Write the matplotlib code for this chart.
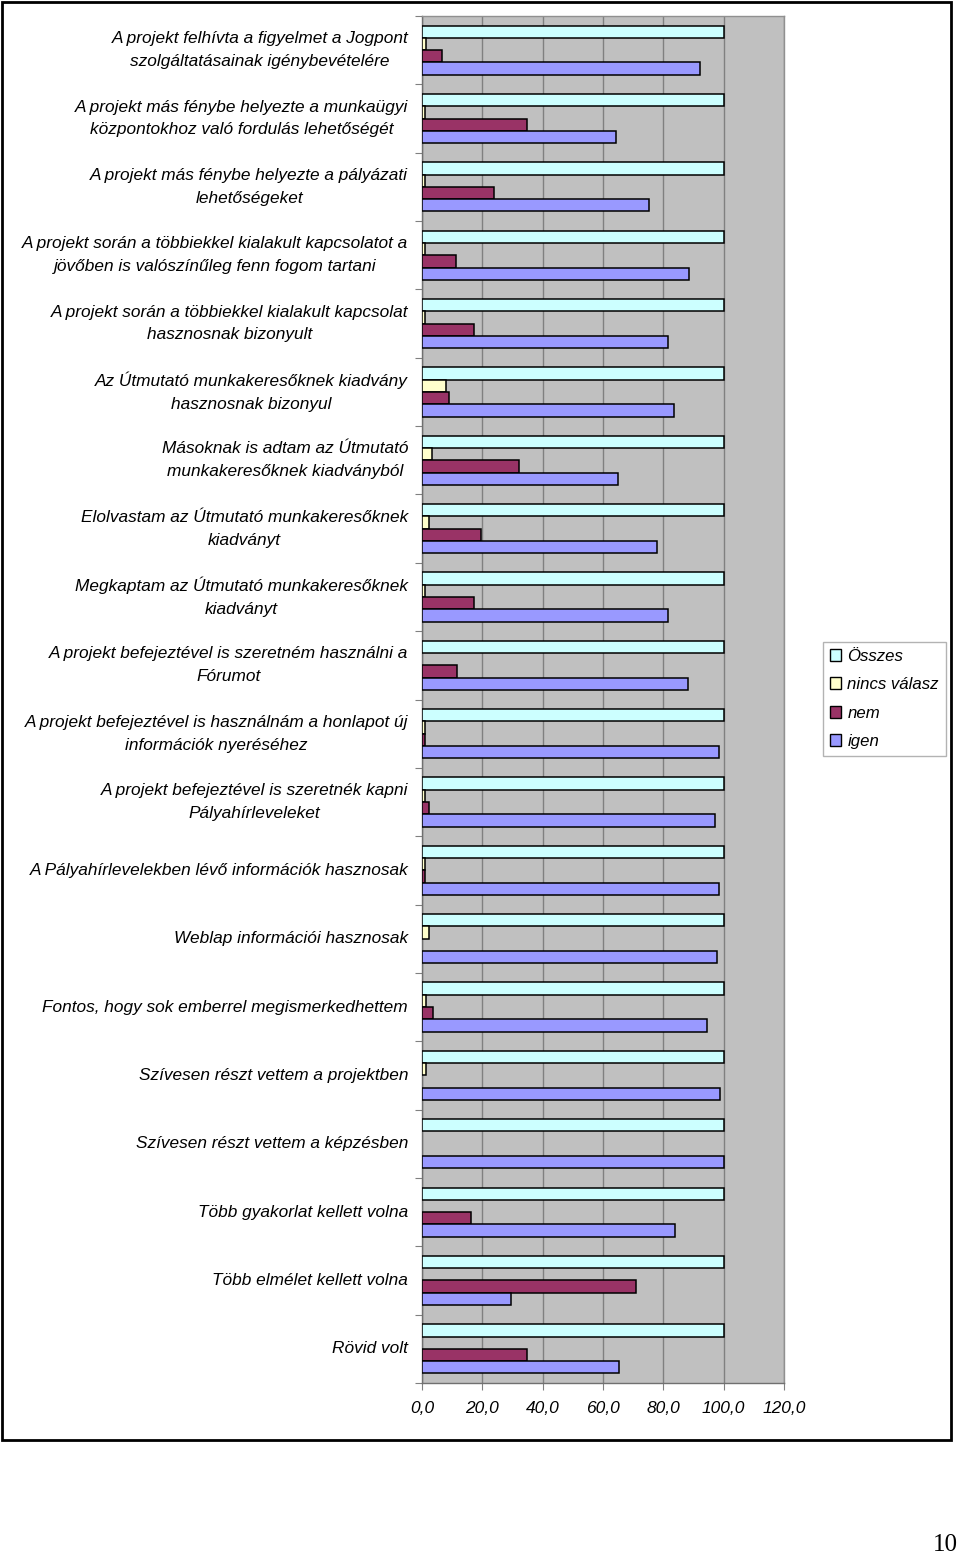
import matplotlib
matplotlib.use('Agg')
import matplotlib.pyplot as plt
import numpy as np
from matplotlib.patches import Patch, Rectangle
from matplotlib.ticker import FuncFormatter, MultipleLocator

##########################################
## Data                                 ##
##########################################

categories = [
    'A projekt felhívta a figyelmet a Jogpont\nszolgáltatásainak igénybevételére',
    'A projekt más fénybe helyezte a munkaügyi\nközpontokhoz való fordulás lehetőségét',
    'A projekt más fénybe helyezte a pályázati\nlehetőségeket',
    'A projekt során a többiekkel kialakult kapcsolatot a\njövőben is valószínűleg fenn fogom tartani',
    'A projekt során a többiekkel kialakult kapcsolat\nhasznosnak bizonyult',
    'Az Útmutató munkakeresőknek kiadvány\nhasznosnak bizonyul',
    'Másoknak is adtam az Útmutató\nmunkakeresőknek kiadványból',
    'Elolvastam az Útmutató munkakeresőknek\nkiadványt',
    'Megkaptam az Útmutató munkakeresőknek\nkiadványt',
    'A projekt befejeztével is szeretném használni a\nFórumot',
    'A projekt befejeztével is használnám a honlapot új\ninformációk nyeréséhez',
    'A projekt befejeztével is szeretnék kapni\nPályahírleveleket',
    'A Pályahírlevelekben lévő információk hasznosak',
    'Weblap információi hasznosak',
    'Fontos, hogy sok emberrel megismerkedhettem',
    'Szívesen részt vettem a projektben',
    'Szívesen részt vettem a képzésben',
    'Több gyakorlat kellett volna',
    'Több elmélet kellett volna',
    'Rövid volt',
]

osszes = [100, 100, 100, 100, 100, 100, 100, 100, 100, 100,
          100, 100, 100, 100, 100, 100, 100, 100, 100, 100]
nincs_valasz = [1.4, 1.0, 1.0, 1.0, 1.0, 8.0, 3.2, 2.3, 1.0, 0,
                1.0, 1.0, 1.0, 2.3, 1.3, 1.3, 0, 0, 0, 0]
nem = [6.6, 34.8, 23.8, 11.3, 17.4, 9.0, 32.0, 19.7, 17.4, 11.7,
       1.0, 2.3, 1.0, 0, 3.8, 0, 0, 16.1, 71.0, 34.8]
igen = [92.0, 64.2, 75.4, 88.4, 81.6, 83.4, 65.1, 78.0, 81.6, 88.3,
        98.5, 97.2, 98.5, 97.7, 94.5, 98.7, 100, 84.0, 29.6, 65.2]

series_names = ['Összes', 'nincs válasz', 'nem', 'igen']
series_colors = ['#CCFFFF', '#FFFFCC', '#993366', '#9999FF']

##########################################
## Plot                                 ##
##########################################

plt.rcParams['font.family'] = ['Liberation Sans', 'DejaVu Sans']

fig = plt.figure(figsize=(9.6, 15.56), dpi=100)
W, H = 960.0, 1556.0
ax = fig.add_axes([422 / W, 1 - 1383 / H, 362 / W, 1367 / H])
ax.set_facecolor('#C0C0C0')

y = np.arange(len(categories))
bar_h = 0.18
offsets = [-1.5 * bar_h, -0.5 * bar_h, 0.5 * bar_h, 1.5 * bar_h]
all_series = [osszes, nincs_valasz, nem, igen]

for vals, off, col in zip(all_series, offsets, series_colors):
    bars = ax.barh(y + off, vals, height=bar_h, color=col,
                   edgecolor='black', linewidth=1.1, zorder=3)
    for b in bars:
        if b.get_width() == 0:
            b.set_visible(False)

ax.set_ylim(len(categories) - 0.5, -0.5)
ax.set_xlim(0, 120)

# x axis
ax.xaxis.set_major_locator(MultipleLocator(20))
ax.xaxis.set_major_formatter(FuncFormatter(lambda v, p: '{:.1f}'.format(v).replace('.', ',')))
ax.tick_params(axis='x', length=5, width=0.8, color='#808080', pad=8,
               labelsize=12.5)
for lab in ax.get_xticklabels():
    lab.set_fontstyle('italic')
ax.grid(axis='x', color='#808080', linewidth=1.0, zorder=1)
ax.set_axisbelow(True)

# y axis: labels centred on groups, tick marks between groups
ax.set_yticks(y)
ax.set_yticklabels(categories)
ax.set_yticks(np.arange(len(categories) + 1) - 0.5, minor=True)
ax.tick_params(axis='y', which='major', length=0, pad=10, labelsize=12.4)
ax.tick_params(axis='y', which='minor', length=5, width=0.8, color='#808080')
for lab in ax.get_yticklabels():
    lab.set_fontstyle('italic')
    lab.set_multialignment('center')
    lab.set_linespacing(1.65)
    lab.set_verticalalignment('center')

for s in ['top', 'right']:
    ax.spines[s].set_color('#909090')
    ax.spines[s].set_linewidth(1.0)
for s in ['left', 'bottom']:
    ax.spines[s].set_color('#707070')
    ax.spines[s].set_linewidth(1.0)

# legend
handles = [Patch(facecolor=c, edgecolor='black', linewidth=1.0) for c in series_colors]
leg = fig.legend(handles, series_names, loc='upper left',
                 bbox_to_anchor=(823 / W, 1 - 642 / H),
                 prop={'style': 'italic', 'size': 12.1},
                 frameon=True, fancybox=False, handlelength=0.7,
                 handleheight=0.7, handletextpad=0.35, labelspacing=0.8,
                 borderpad=0.4, borderaxespad=0)
leg.get_frame().set_edgecolor('#A0A0A0')
leg.get_frame().set_linewidth(1.0)

# outer frame round the chart
fig.patches.append(Rectangle((2 / W, 1 - 1440 / H), 949 / W, 1438 / H,
                             transform=fig.transFigure, fill=False,
                             edgecolor='black', linewidth=2.0))

# page number
fig.text(945 / W, 1 - 1545 / H, '10', ha='center', va='center',
         fontsize=18, family=['Liberation Serif', 'DejaVu Serif'])

fig.savefig('out.png', dpi=100, facecolor='white')
